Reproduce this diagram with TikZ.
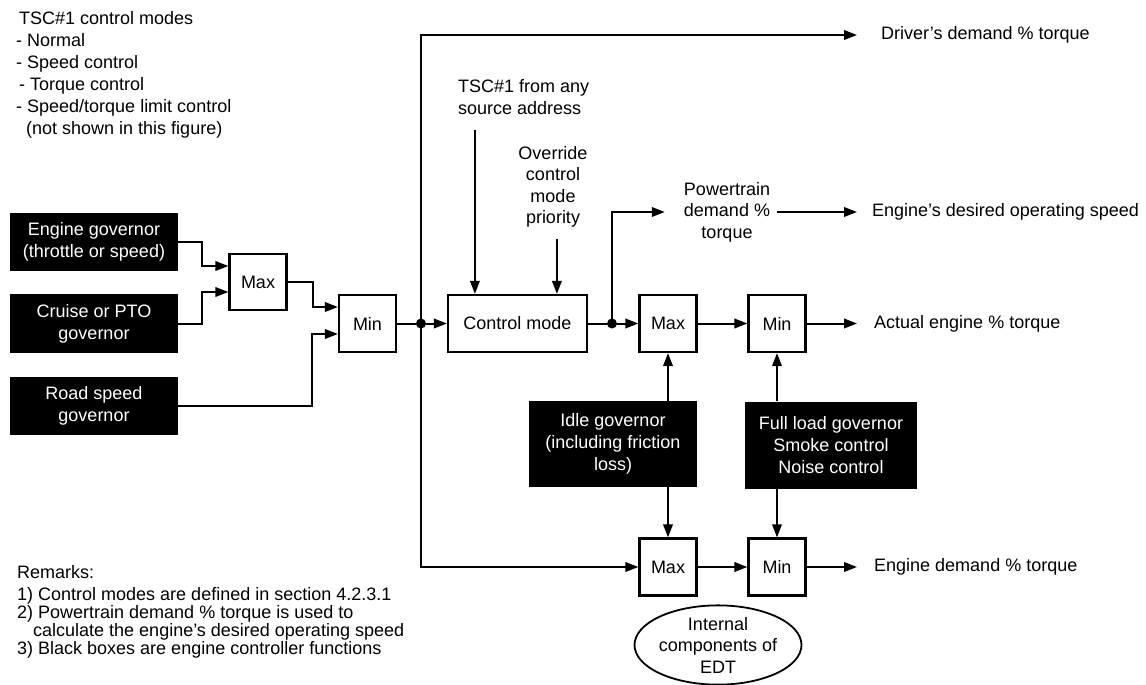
\documentclass[tikz,border=0pt]{standalone}
\usepackage{fontspec}
\setmainfont{Liberation Sans}
\usetikzlibrary{arrows.meta,shapes.geometric}

\tikzset{
  blk/.style={fill=black,text=white,align=center,inner sep=0pt},
  gate/.style={draw,line width=2.2pt,minimum width=57pt,minimum height=57pt,inner sep=0pt},
  txt/.style={inner sep=0pt},
  outlbl/.style={anchor=west,inner xsep=17pt,inner ysep=0pt},
  arr/.style={line width=2pt,-{Triangle[length=13pt,width=9.5pt]}},
  wire/.style={line width=2pt}
}

\begin{document}
\begin{tikzpicture}[x=1pt,y=-1pt,font=\fontsize{18}{22}\selectfont]
\useasboundingbox (0,0) rectangle (1146,685);

\begin{scope}
 % engine controller functions
 \node[blk,minimum width=168pt,minimum height=58pt] (eng) at (94,242) {Engine governor\\(throttle or speed)};
 \node[blk,minimum width=168pt,minimum height=59pt] (cru) at (94,323.5) {Cruise or PTO\\governor};
 \node[blk,minimum width=168pt,minimum height=58pt] (road) at (94,406) {Road speed\\governor};
 \node[blk,minimum width=168pt,minimum height=86pt] (idle) at (613,444) {Idle governor\\(including friction\\loss)};
 \node[blk,minimum width=172pt,minimum height=87pt] (full) at (831,445) {Full load governor\\Smoke control\\Noise control};

 % selection blocks
 \node[gate,minimum height=56pt] (max1) at (258,282) {Max};
 \node[gate] (min1) at (367.5,323.5) {Min};
 \node[gate,minimum width=139pt] (ctrl) at (517.5,323.5) {Control mode};
 \node[gate] (max2) at (668,323.5) {Max};
 \node[gate] (min2) at (777,323.5) {Min};
 \node[gate] (max3) at (668,567) {Max};
 \node[gate] (min3) at (777,567) {Min};
 \node[draw,ellipse,line width=1.8pt,minimum width=164pt,minimum height=77pt,inner sep=0pt,align=center,font=\fontsize{18}{21.5}\selectfont] (edt) at (718,645) {Internal\\components of\\EDT};

 % texts
 \node[txt,anchor=north west,align=left] (modes) at (16,11) {\hspace{3pt}TSC\#1 control modes\\- Normal\\- Speed control\\\hspace{3pt}- Torque control\\- Speed/torque limit control\\\hspace{10pt}(not shown in this figure)};
 \node[txt,anchor=north west,align=left,font=\fontsize{18}{18}\selectfont] (rem) at (17,565.5) {Remarks:\\[4pt]1) Control modes are defined in section 4.2.3.1\\2) Powertrain demand \% torque is used to\\\hspace{16pt}calculate the engine's desired operating speed\\3) Black boxes are engine controller functions};
 \node[txt,anchor=west,align=left] (tsc) at (458,97.5) {TSC\#1 from any\\source address};
 \node[txt,align=center,font=\fontsize{18}{21.5}\selectfont] (ovr) at (553,187) {Override\\control\\mode\\priority};
 \node[inner xsep=7pt,inner ysep=0pt,align=center,font=\fontsize{18}{21.5}\selectfont] (ptd) at (727,212) {Powertrain\\demand \%\\torque};
 \node[outlbl,inner xsep=24pt] (drv) at (857,35) {Driver's demand \% torque};
 \node[outlbl,inner xsep=15pt] (eds) at (857,212) {Engine's desired operating speed};
 \node[outlbl] (act) at (857,323.5) {Actual engine \% torque};
 \node[outlbl] (edm) at (857,567) {Engine demand \% torque};

 \coordinate (j1) at (421,323.5);
 \coordinate (j2) at (612,323.5);

 % governors to min/max
 \draw[arr] (eng.east) -- ++(24,0) |- ([yshift=16pt]max1.west);
 \draw[arr] (cru.east) -- ++(24,0) |- ([yshift=-10pt]max1.west);
 \draw[arr] (max1.east) -- ++(25,0) |- ([yshift=16.5pt]min1.west);
 \draw[arr] (road.east) -- ++(134,0) |- ([yshift=-10.5pt]min1.west);

 \draw[arr] (min1.east) -- (ctrl.west);
 \draw[arr] (j1) |- (drv.west);
 \draw[arr] (j1) |- (max3.west);
 \fill (j1) circle (5pt);

 \draw[arr] ([xshift=28pt,yshift=164pt]ctrl.north west) -- ([xshift=28pt]ctrl.north west);
 \draw[arr] ([xshift=110pt,yshift=55pt]ctrl.north west) -- ([xshift=110pt]ctrl.north west);

 \draw[arr] (ctrl.east) -- (max2.west);
 \draw[arr,shorten >=12pt] (j2) |- (ptd.west);
 \draw[arr] (ptd.east) -- (eds.west);
 \fill (j2) circle (5pt);

 \draw[arr] (max2.east) -- (min2.west);
 \draw[arr] (min2.east) -- (act.west);
 \draw[arr] (max3.east) -- (min3.west);
 \draw[arr] (min3.east) -- (edm.west);

 \draw[arr] (max2.south |- idle.north) -- (max2.south);
 \draw[arr] (max3.north |- idle.south) -- (max3.north);
 \draw[arr] (min2.south |- full.north) -- (min2.south);
 \draw[arr] (min3.north |- full.south) -- (min3.north);
\end{scope}
\end{tikzpicture}
\end{document}
